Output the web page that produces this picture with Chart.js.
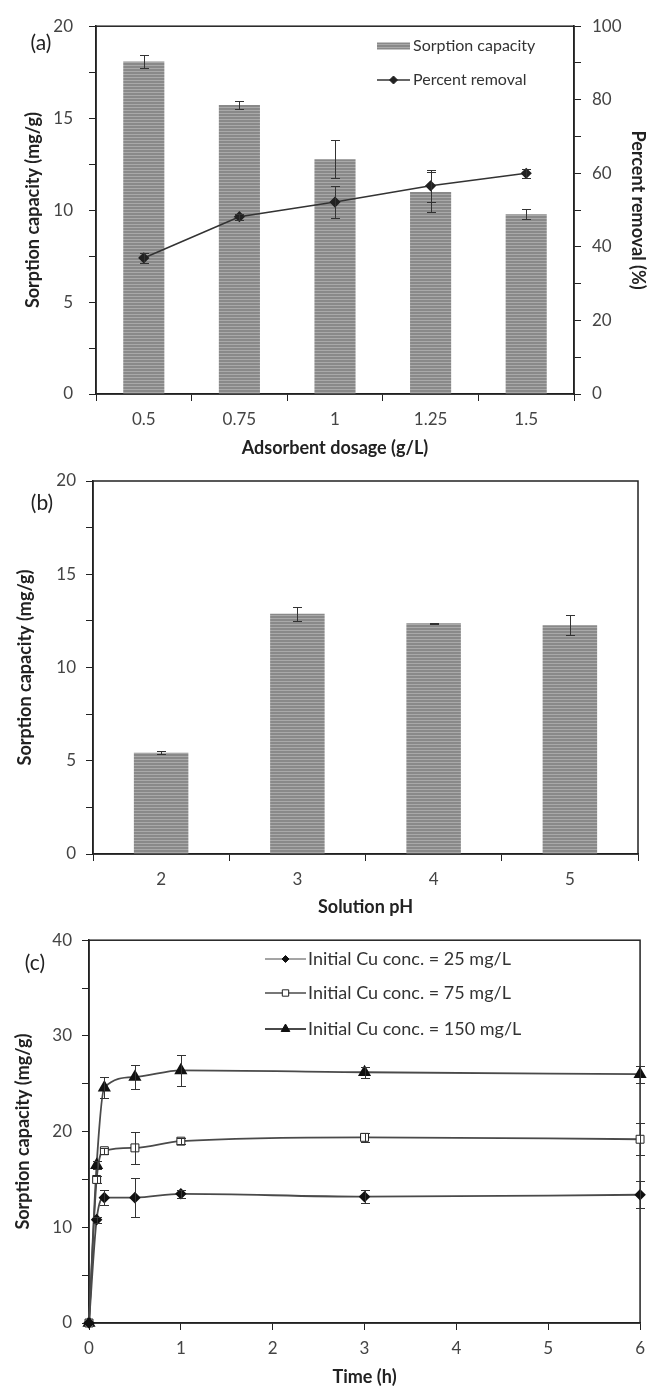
<!DOCTYPE html>
<html><head><meta charset="utf-8">
<script src="https://cdn.jsdelivr.net/npm/chart.js@4.4.0/dist/chart.umd.min.js"></script>
<style>
html,body{margin:0;padding:0;background:#fff;}
#wrap{position:relative;width:653px;height:1388px;overflow:hidden;background:#fff;}
canvas{position:absolute;left:0;}
</style></head><body>
<div id="wrap">
<canvas id="ca" width="653" height="460" style="top:0"></canvas>
<canvas id="cb" width="653" height="460" style="top:460px"></canvas>
<canvas id="cc" width="653" height="468" style="top:920px"></canvas>
</div>
<script>
// ---------- DATA ----------
// (a) effect of adsorbent dosage
const dosageLabels = ['0.5', '0.75', '1', '1.25', '1.5'];
const capacityA = [18.08, 15.71, 12.76, 10.99, 9.78];
const capacityAErr = [0.33, 0.2, 1.03, 1.1, 0.27];
const removalA = [37.0, 48.2, 52.2, 56.6, 60.0];
const removalAErr = [1.3, 0.8, 4.3, 4.4, 1.2];

// (b) effect of solution pH
const phLabels = ['2', '3', '4', '5'];
const capacityB = [5.43, 12.88, 12.37, 12.27];
const capacityBErr = [0.08, 0.38, 0.03, 0.52];

// (c) kinetics
const timeH = [0, 0.083, 0.167, 0.5, 1, 3, 6];
const cu25 = [0, 10.8, 13.1, 13.1, 13.5, 13.2, 13.4];
const cu25Err = [0, 0.3, 0.77, 2.0, 0.4, 0.65, 1.4];
const cu75 = [0, 15.0, 18.0, 18.3, 19.0, 19.4, 19.2];
const cu75Err = [0, 0.4, 0.3, 1.65, 0.3, 0.5, 1.65];
const cu150 = [0, 16.5, 24.6, 25.7, 26.4, 26.2, 26.0];
const cu150Err = [0, 0.4, 1.1, 1.3, 1.65, 0.6, 0.9];

// ---------- STYLE / HELPERS ----------
Chart.defaults.font.family = 'Lato, "Open Sans", sans-serif';
Chart.defaults.animation = false;
const TICK = '#444', TITLE = '#222', AXIS = '#222';
const TICK_SIZE = 17, TITLE_SIZE = 18;

function stripePattern(ctx) {
  const c = document.createElement('canvas'); c.width = 4; c.height = 3;
  const x = c.getContext('2d');
  x.fillStyle = '#898989'; x.fillRect(0, 0, 4, 3);
  x.fillStyle = '#a9a9a9'; x.fillRect(0, 2, 4, 1);
  return ctx.createPattern(c, 'repeat');
}

const errorBarPlugin = {
  id: 'errorBars',
  afterDatasetsDraw(chart, args, opts) {
    const ctx = chart.ctx;
    (opts.sets || []).forEach(s => {
      const meta = chart.getDatasetMeta(s.dataset);
      const ds = chart.data.datasets[s.dataset];
      const ys = chart.scales[meta.yAxisID];
      ctx.save();
      ctx.strokeStyle = '#333'; ctx.lineWidth = 1;
      meta.data.forEach((el, i) => {
        const e = s.errors[i]; if (!e) return;
        const raw = ds.data[i]; const v = (typeof raw === 'object') ? raw.y : raw;
        const x = Math.round(el.x) + 0.5;
        const y1 = Math.round(ys.getPixelForValue(v + e)) + 0.5;
        const y2 = Math.round(ys.getPixelForValue(v - e)) + 0.5;
        const w = s.cap || 4.5;
        ctx.beginPath();
        ctx.moveTo(x, y1); ctx.lineTo(x, y2);
        ctx.moveTo(x - w, y1); ctx.lineTo(x + w, y1);
        ctx.moveTo(x - w, y2); ctx.lineTo(x + w, y2);
        ctx.stroke();
      });
      ctx.restore();
    });
  }
};

const framePlugin = {
  id: 'frame',
  beforeDatasetsDraw(chart) {
    const {left, top, right, bottom} = chart.chartArea;
    const ctx = chart.ctx;
    ctx.save();
    ctx.strokeStyle = AXIS; ctx.lineWidth = 1.5;
    ctx.strokeRect(left, top, right - left, bottom - top);
    ctx.restore();
  }
};

const annotPlugin = {
  id: 'annot',
  afterDraw(chart, args, opts) {
    const ctx = chart.ctx;
    ctx.save();
    if (opts.panel) {
      ctx.font = '21px Lato, sans-serif'; ctx.fillStyle = TITLE;
      ctx.textAlign = 'center'; ctx.textBaseline = 'middle';
      ctx.fillText(opts.panel.text, opts.panel.x, opts.panel.y);
    }
    (opts.legend || []).forEach(it => {
      const ds = chart.data.datasets[it.dataset];
      if (it.kind === 'bar') {
        ctx.fillStyle = ds.backgroundColor;
        ctx.fillRect(it.x, it.y - it.h / 2, it.w, it.h);
      } else {
        ctx.strokeStyle = ds.borderColor; ctx.lineWidth = it.lw || 1.5;
        ctx.beginPath(); ctx.moveTo(it.x, it.y); ctx.lineTo(it.x + it.w, it.y); ctx.stroke();
        ctx.fillStyle = ds.pointBackgroundColor; ctx.strokeStyle = ds.pointBorderColor;
        ctx.lineWidth = 1;
        Chart.helpers.drawPoint(ctx, {pointStyle: ds.pointStyle, radius: it.r || ds.pointRadius, rotation: 0, borderWidth: 1}, it.x + it.w / 2, it.y);
      }
      ctx.font = (it.fs || 15) + 'px Lato, sans-serif'; ctx.fillStyle = '#333';
      ctx.textAlign = 'left'; ctx.textBaseline = 'middle';
      ctx.fillText(ds.label, it.tx, it.y);
    });
    ctx.restore();
  }
};

function tickFont() { return {size: TICK_SIZE}; }
function titleFont() { return {size: TITLE_SIZE, weight: 'bold'}; }
function yAxis(pos, min, max, step, labelEvery, width, title, tpad, lpad) {
  return {
    position: pos, min: min, max: max,
    grid: {display: true, drawOnChartArea: false, tickLength: 7, color: AXIS, lineWidth: 1},
    border: {display: true, color: AXIS, width: 1.5},
    ticks: {stepSize: step, autoSkip: false, padding: lpad, color: TICK, font: tickFont(),
      callback: v => (Math.abs(v / labelEvery - Math.round(v / labelEvery)) < 1e-6 ? String(v) : '')},
    title: {display: true, text: title, color: TITLE, font: titleFont(), padding: {top: tpad, bottom: 0}},
    afterFit: s => { s.width = width; }
  };
}

// ---------- (a) ----------
const ctxA = document.getElementById('ca').getContext('2d');
new Chart(ctxA, {
  type: 'bar',
  data: {
    labels: dosageLabels,
    datasets: [
      {type: 'line', label: 'Percent removal', data: removalA, yAxisID: 'y2', order: 0,
       borderColor: '#333', borderWidth: 1.6, tension: 0, fill: false,
       pointStyle: 'rectRot', pointRadius: 4.5, pointBackgroundColor: '#222', pointBorderColor: '#222'},
      {type: 'bar', label: 'Sorption capacity', data: capacityA, yAxisID: 'y', order: 1,
       backgroundColor: stripePattern(ctxA), borderWidth: 0,
       categoryPercentage: 1, barPercentage: 0.43}
    ]
  },
  options: {
    responsive: false, devicePixelRatio: 1,
    layout: {padding: {top: 23, right: 0, bottom: 0, left: 0}},
    plugins: {
      legend: {display: false}, tooltip: {enabled: false},
      errorBars: {sets: [{dataset: 1, errors: capacityAErr}, {dataset: 0, errors: removalAErr}]},
      annot: {panel: {text: '(a)', x: 41, y: 43},
        legend: [
          {dataset: 1, kind: 'bar', x: 377, y: 46, w: 33, h: 7, tx: 413, fs: 16},
          {dataset: 0, kind: 'line', x: 377, y: 80, w: 33, tx: 413, fs: 16, r: 4}
        ]}
    },
    scales: {
      x: {
        grid: {display: true, drawOnChartArea: false, tickLength: 7, color: AXIS, offset: true},
        border: {display: true, color: AXIS, width: 1.5},
        ticks: {padding: 8, color: TICK, font: tickFont()},
        title: {display: true, text: 'Adsorbent dosage (g/L)', color: TITLE, font: titleFont(), padding: {top: 0, bottom: 1.2}},
        afterFit: s => { s.height = 66; }
      },
      y: yAxis('left', 0, 20, 2.5, 5, 96, 'Sorption capacity (mg/g)', 22.2, 16),
      y2: yAxis('right', 0, 100, 10, 20, 79, 'Percent removal (%)', 4.7, 11)
    }
  },
  plugins: [framePlugin, errorBarPlugin, annotPlugin]
});

// ---------- (b) ----------
const ctxB = document.getElementById('cb').getContext('2d');
new Chart(ctxB, {
  type: 'bar',
  data: {
    labels: phLabels,
    datasets: [
      {label: 'Sorption capacity', data: capacityB, backgroundColor: stripePattern(ctxB), borderWidth: 0,
       categoryPercentage: 1, barPercentage: 0.4}
    ]
  },
  options: {
    responsive: false, devicePixelRatio: 1,
    layout: {padding: {top: 21, right: 15, bottom: 0, left: 0}},
    plugins: {
      legend: {display: false}, tooltip: {enabled: false},
      errorBars: {sets: [{dataset: 0, errors: capacityBErr}]},
      annot: {panel: {text: '(b)', x: 42, y: 43}}
    },
    scales: {
      x: {
        grid: {display: true, drawOnChartArea: false, tickLength: 7, color: AXIS, offset: true},
        border: {display: true, color: AXIS, width: 1.5},
        ticks: {padding: 8, color: TICK, font: tickFont()},
        title: {display: true, text: 'Solution pH', color: TITLE, font: titleFont(), padding: {top: 0, bottom: 2.2}},
        afterFit: s => { s.height = 66; }
      },
      y: yAxis('left', 0, 20, 2.5, 5, 93, 'Sorption capacity (mg/g)', 14.2, 10)
    }
  },
  plugins: [framePlugin, errorBarPlugin, annotPlugin]
});

// ---------- (c) ----------
const ctxC = document.getElementById('cc').getContext('2d');
const toXY = arr => arr.map((v, i) => ({x: timeH[i], y: v}));
new Chart(ctxC, {
  type: 'line',
  data: {
    datasets: [
      {label: 'Initial Cu conc. = 25 mg/L', data: toXY(cu25), borderColor: '#4a4a4a', borderWidth: 1.8,
       cubicInterpolationMode: 'monotone', pointStyle: 'rectRot', pointRadius: 4.5, clip: false,
       pointBackgroundColor: '#111', pointBorderColor: '#111'},
      {label: 'Initial Cu conc. = 75 mg/L', data: toXY(cu75), borderColor: '#4a4a4a', borderWidth: 1.8,
       cubicInterpolationMode: 'monotone', pointStyle: 'rect', pointRadius: 5.6, clip: false,
       pointBackgroundColor: '#fff', pointBorderColor: '#222', pointBorderWidth: 1},
      {label: 'Initial Cu conc. = 150 mg/L', data: toXY(cu150), borderColor: '#4a4a4a', borderWidth: 1.8,
       cubicInterpolationMode: 'monotone', pointStyle: 'triangle', pointRadius: 5.8, clip: false,
       pointBackgroundColor: '#111', pointBorderColor: '#111'}
    ]
  },
  options: {
    responsive: false, devicePixelRatio: 1,
    layout: {padding: {top: 14, right: 6, bottom: 0, left: 0}},
    plugins: {
      legend: {display: false}, tooltip: {enabled: false},
      errorBars: {sets: [{dataset: 0, errors: cu25Err}, {dataset: 1, errors: cu75Err}, {dataset: 2, errors: cu150Err}]},
      annot: {panel: {text: '(c)', x: 35, y: 43},
        legend: [
          {dataset: 0, kind: 'line', x: 265, y: 39, w: 41, tx: 308, fs: 18, lw: 1, r: 3.5},
          {dataset: 1, kind: 'line', x: 265, y: 73, w: 41, tx: 308, fs: 18, lw: 1.5, r: 4.5},
          {dataset: 2, kind: 'line', x: 265, y: 109, w: 41, tx: 308, fs: 18, lw: 2, r: 5}
        ]}
    },
    scales: {
      x: {
        type: 'linear', min: 0, max: 6,
        grid: {display: true, drawOnChartArea: false, tickLength: 7, color: AXIS},
        border: {display: true, color: AXIS, width: 1.5},
        ticks: {stepSize: 1, padding: 8, color: TICK, font: tickFont()},
        title: {display: true, text: 'Time (h)', color: TITLE, font: titleFont(), padding: {top: 0, bottom: 0.2}},
        afterFit: s => { s.height = 65; }
      },
      y: yAxis('left', 0, 40, 5, 10, 89, 'Sorption capacity (mg/g)', 12.2, 10)
    }
  },
  plugins: [framePlugin, errorBarPlugin, annotPlugin]
});
</script>
</body></html>
